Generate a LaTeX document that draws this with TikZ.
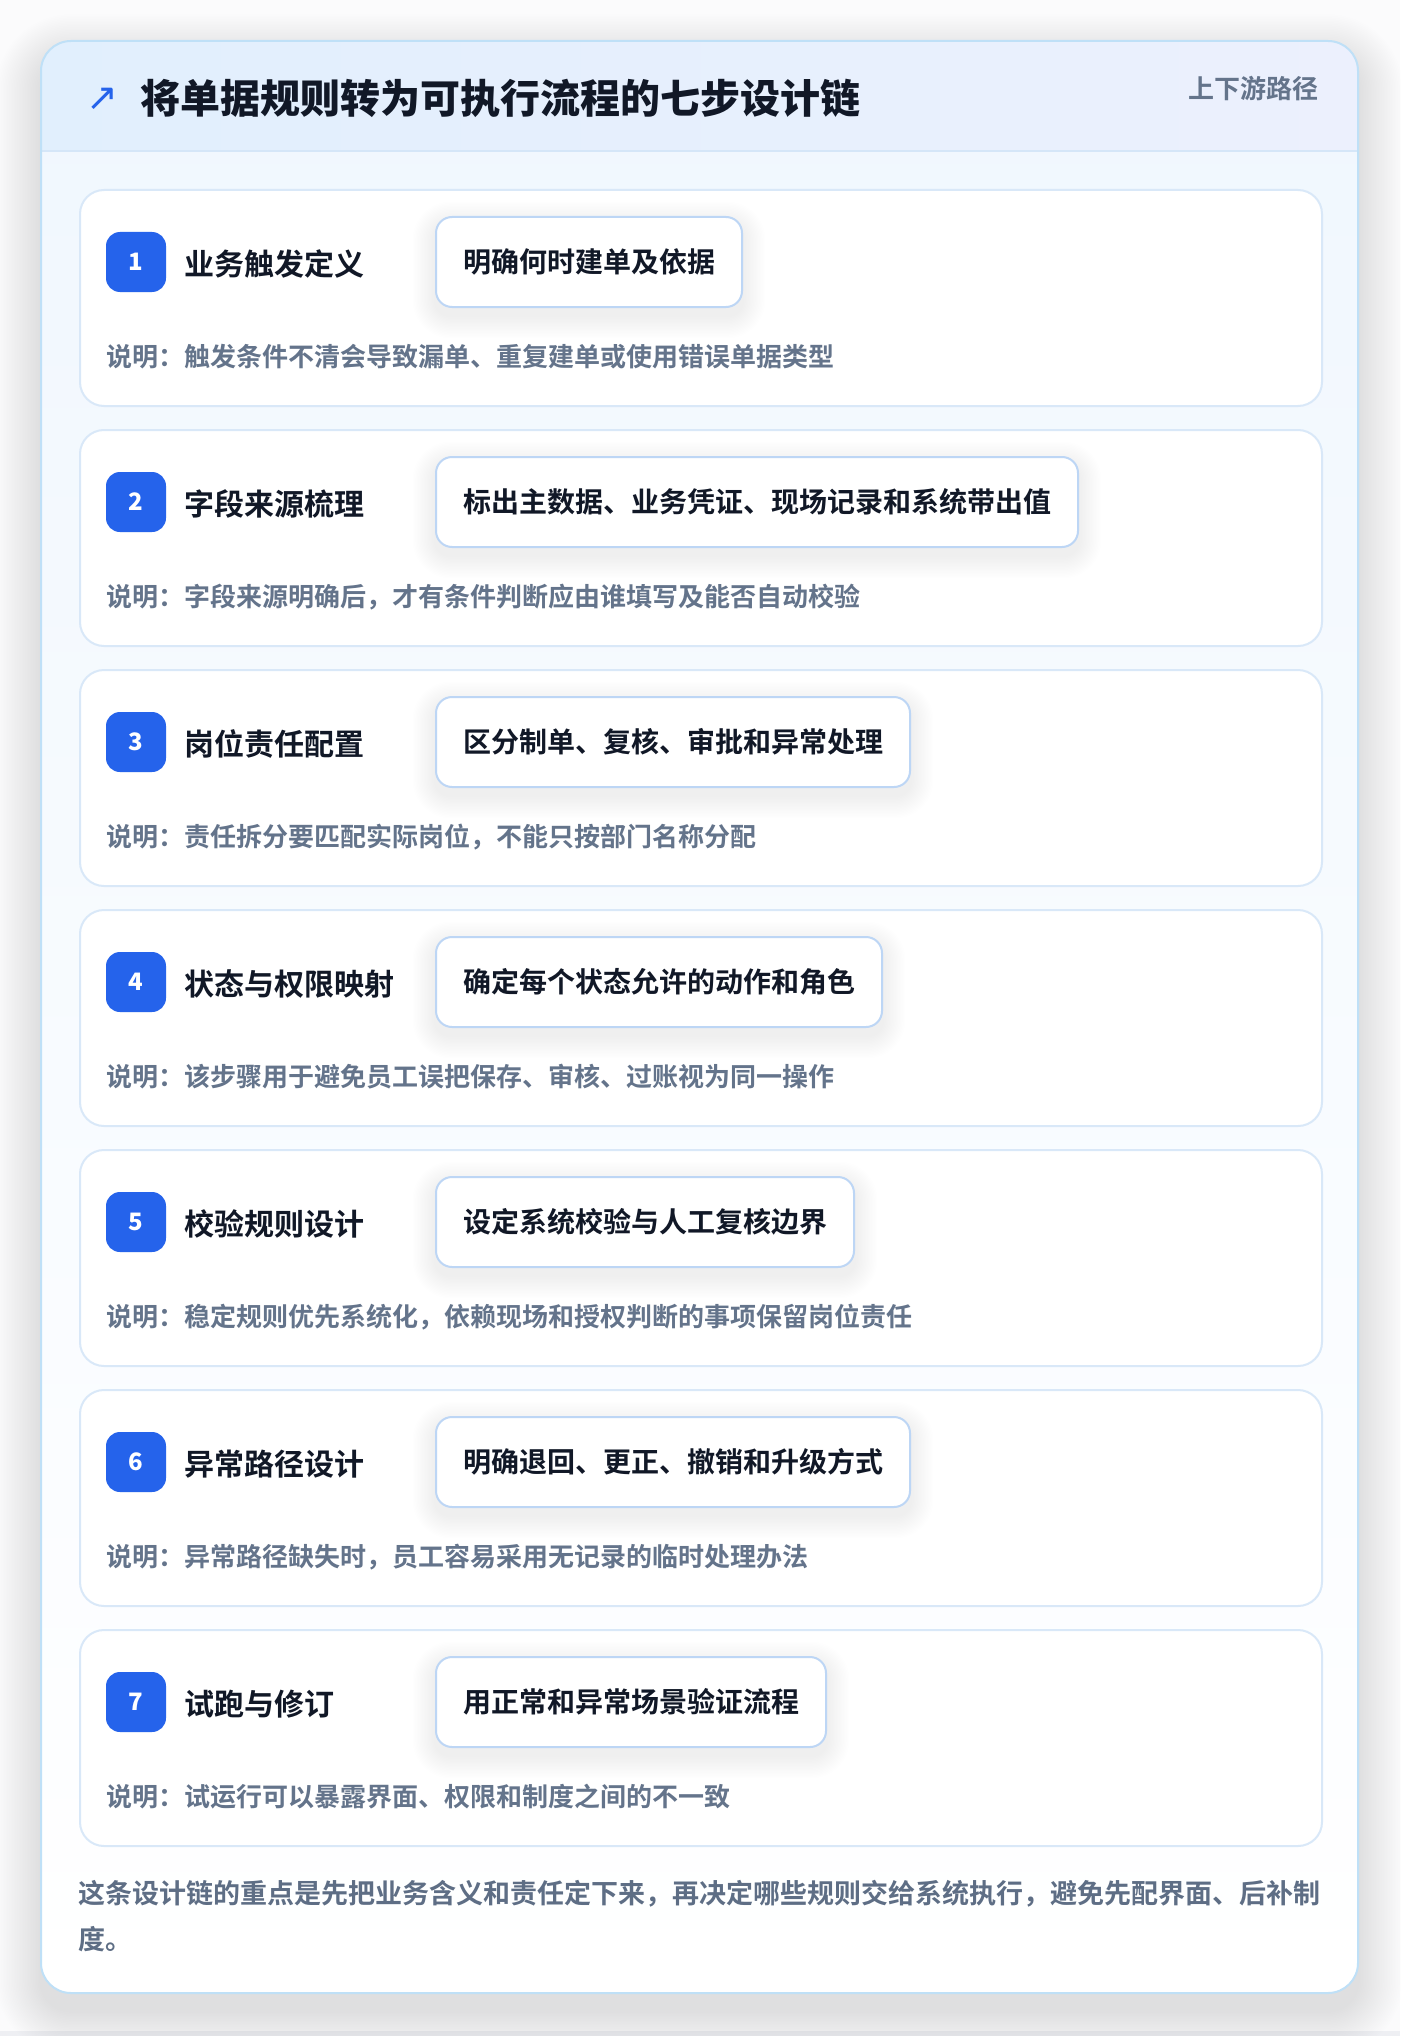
\documentclass[tikz,border=0pt]{standalone}
\usepackage{fontspec}
\setmainfont{Noto Sans CJK SC}
\newfontfamily\cjkb{Noto Sans CJK SC Bold}
\newfontfamily\cjkh{Noto Sans CJK SC Black}
\newfontfamily\symf{DejaVu Sans}
\usetikzlibrary{calc}
\pgfdeclarelayer{front}
\pgfsetlayers{main,front}
\definecolor{pagebg}{HTML}{FBFBFC}
\definecolor{pagestrip}{HTML}{EEEFF3}
\definecolor{outerborder}{HTML}{BFE0F7}
\definecolor{hdrL}{HTML}{E1EFFD}
\definecolor{hdrR}{HTML}{ECF0FD}
\definecolor{hdrline}{HTML}{D5E6F8}
\definecolor{bodyT}{HTML}{F0F7FE}
\definecolor{cardborder}{HTML}{D9E8F8}
\definecolor{pillborder}{HTML}{BDD6F5}
\definecolor{badgeblue}{HTML}{2563EB}
\definecolor{ink}{HTML}{111827}
\definecolor{muted}{HTML}{64748B}
\definecolor{foot}{HTML}{5E6E85}
\tikzset{
  stepcard/.style={draw=cardborder, line width=2pt, fill=white, rounded corners=24pt,
    minimum width=1242pt, minimum height=216pt, inner sep=0pt, anchor=north west},
  badgebox/.style={fill=badgeblue, rounded corners=14pt, minimum size=60pt, inner sep=0pt,
    text=white, font=\cjkh\fontsize{24}{24}\selectfont},
  steptitle/.style={anchor=west, inner sep=0pt, text=ink, font=\cjkb\fontsize{30}{30}\selectfont},
  pillbox/.style={anchor=west, draw=pillborder, line width=2pt, fill=white, rounded corners=16pt,
    minimum height=90pt, inner xsep=27pt, inner ysep=0pt, text=ink,
    font=\cjkb\fontsize{28}{28}\selectfont},
  desctext/.style={anchor=west, inner sep=0pt, text=muted, font=\cjkb\fontsize{26}{26}\selectfont},
  foottext/.style={anchor=west, inner sep=0pt, text=foot, font=\cjkb\fontsize{27}{27}\selectfont}
}
\begin{document}
\begin{tikzpicture}[x=1pt,y=-1pt]
\useasboundingbox (0,0) rectangle (1400,2036);
\fill[pagebg] (0,0) rectangle (1400,2036);
\fill[pagestrip] (0,2031) rectangle (1400,2036);
% outer soft shadow
\foreach \k in {1,...,28}{
  \pgfmathsetmacro\e{\k*1.6}
  \pgfmathsetmacro\r{30+\e}
  \fill[black, opacity=0.0055, rounded corners=\r pt] ({41-\e},{41-\e+18}) rectangle ({1358+\e},{1993+\e+18});
}
% outer card
\fill[white, rounded corners=30pt] (41,41) rectangle (1358,1993);
\shade[rounded corners=30pt, top color=bodyT, bottom color=white] (41,41) rectangle (1358,1993);
\begin{scope}
  \clip[rounded corners=30pt] (41,41) rectangle (1358,1993);
  \shade[left color=hdrL, right color=hdrR] (41,41) rectangle (1358,151);
  \draw[hdrline, line width=2pt] (41,151) -- (1358,151);
\end{scope}
\draw[outerborder, line width=2pt, rounded corners=30pt] (41,41) rectangle (1358,1993);
% header
\node[text=badgeblue, font=\symf\fontsize{38}{38}\selectfont, inner sep=0pt] (icon) at (102,99) {↗};
\node[anchor=west, inner sep=0pt, text=ink, font=\cjkh\fontsize{40}{40}\selectfont] (title) at (140,98) {将单据规则转为可执行流程的七步设计链};
\node[anchor=east, inner sep=0pt, text=muted, font=\cjkb\fontsize{26}{26}\selectfont] (sub) at (1319,89) {上下游路径};
% steps
\foreach \i/\ttl/\pil/\dsc in {
  1/业务触发定义/明确何时建单及依据/说明：触发条件不清会导致漏单、重复建单或使用错误单据类型,
  2/字段来源梳理/标出主数据、业务凭证、现场记录和系统带出值/说明：字段来源明确后，才有条件判断应由谁填写及能否自动校验,
  3/岗位责任配置/区分制单、复核、审批和异常处理/说明：责任拆分要匹配实际岗位，不能只按部门名称分配,
  4/状态与权限映射/确定每个状态允许的动作和角色/说明：该步骤用于避免员工误把保存、审核、过账视为同一操作,
  5/校验规则设计/设定系统校验与人工复核边界/说明：稳定规则优先系统化，依赖现场和授权判断的事项保留岗位责任,
  6/异常路径设计/明确退回、更正、撤销和升级方式/说明：异常路径缺失时，员工容易采用无记录的临时处理办法,
  7/试跑与修订/用正常和异常场景验证流程/说明：试运行可以暴露界面、权限和制度之间的不一致}{
  \pgfmathsetmacro\T{189+240*(\i-1)}
  \node[stepcard] (card\i) at (79,\T) {};
  \node[badgebox] (badge\i) at (136,\T+73) {\i};
  \node[steptitle] (stitle\i) at (184,\T+75) {\ttl};
  \begin{pgfonlayer}{front}
    \node[pillbox] (pill\i) at (435,\T+73) {\pil};
  \end{pgfonlayer}
  \foreach \k in {1,...,16}{
    \pgfmathsetmacro\e{\k*1.4}
    \pgfmathsetmacro\r{16+\e}
    \fill[black, opacity=0.0042, rounded corners=\r pt]
      ($(pill\i.north west)+({-\e},{-\e+8})$) rectangle ($(pill\i.south east)+({\e},{\e+8})$);
  }
  \node[desctext] (desc\i) at (106,\T+168) {\dsc};
}
% footer
\node[foottext] (foot1) at (78,1894) {这条设计链的重点是先把业务含义和责任定下来，再决定哪些规则交给系统执行，避免先配界面、后补制};
\node[foottext] (foot2) at (78,1939) {度。};
\end{tikzpicture}
\end{document}
